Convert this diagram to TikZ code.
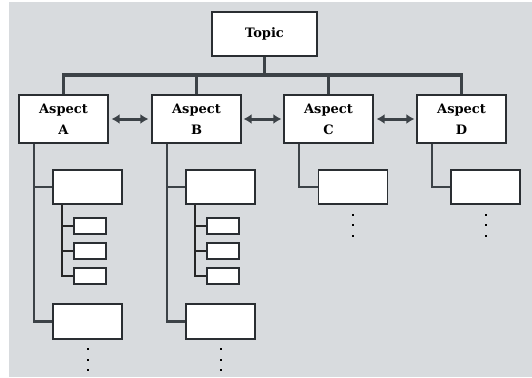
\documentclass[tikz,border=0pt]{standalone}
\usepackage{fontspec}
\setmainfont{DejaVu Serif}
\usetikzlibrary{arrows.meta}
\definecolor{bg}{HTML}{D8DBDE}
\definecolor{ln}{HTML}{3C4247}
\begin{document}
\begin{tikzpicture}[x=1pt,y=-1pt,
  box/.style={draw=ln!70!black,fill=white,line width=1.3pt,inner sep=0pt},
  main/.style={box,font=\fontsize{13}{21}\selectfont\bfseries,align=center},
  trunk/.style={draw=ln,line width=3.5pt},
  branch/.style={draw=ln,line width=2.5pt},
  sub/.style={draw=black!85,line width=1.3pt},
  link/.style={draw=ln,line width=3pt,{Latex[length=8pt,width=10pt]}-{Latex[length=8pt,width=10pt]}},
  dot/.style={fill=black,inner sep=0pt,minimum size=2pt}]
\useasboundingbox (0,0) rectangle (532,377);
\fill[bg] (9,2) rectangle (532,377);
% topic
\node[main,minimum width=105pt,minimum height=44pt] (T) at (264.5,34) {Topic};
% aspects
\foreach \n/\x/\l in {A/63.5/A,B/196.5/B,C/328.5/C,D/461.5/D}{
  \node[main,minimum width=89pt,minimum height=48pt] (\n) at (\x,119) {Aspect\\\l};
}
\coordinate (j) at (264.5,75);
\draw[trunk] (T.south) -- (j);
\draw[trunk] (A.north) |- (j) -| (D.north);
\draw[trunk] (B.north) -- (B.north |- j);
\draw[trunk] (C.north) -- (C.north |- j);
% double arrows
\draw[link] ([xshift=3pt]A.east) -- ([xshift=-3pt]B.west);
\draw[link] ([xshift=2pt]B.east) -- ([xshift=-2pt]C.west);
\draw[link] ([xshift=3pt]C.east) -- ([xshift=-2pt]D.west);
% children boxes
\foreach \n/\x in {A/87.5,B/220.5,C/353,D/485.5}{
  \node[box,minimum width=69pt,minimum height=34pt] (\n1) at (\x,187) {};
}
\foreach \n/\x in {A/87.5,B/220.5}{
  \node[box,minimum width=69pt,minimum height=35pt] (\n2) at (\x,321.5) {};
  \foreach \i/\y in {1/226,2/251,3/276}{
    \node[box,minimum width=32pt,minimum height=16pt] (\n s\i) at (\x+2.5,\y) {};
  }
  \node[dot] (\n d1) at (\x,349) {};
  \node[dot] (\n d2) at (\x,360) {};
  \node[dot] (\n d3) at (\x,370) {};
}
\foreach \n/\x in {C/353,D/485.5}{
  \node[dot] (\n d1) at (\x,215) {};
  \node[dot] (\n d2) at (\x,225) {};
  \node[dot] (\n d3) at (\x,236) {};
}
% branches from aspects
\draw[branch] ([xshift=-29.5pt]A.south) |- (A2.west);
\draw[branch] ([xshift=-29.5pt]A.south |- A1.west) -- (A1.west);
\draw[branch] ([xshift=-29.5pt]B.south) |- (B2.west);
\draw[branch] ([xshift=-29.5pt]B.south |- B1.west) -- (B1.west);
\draw[branch] ([xshift=-29.5pt]C.south) |- (C1.west);
\draw[branch] ([xshift=-29.5pt]D.south) |- (D1.west);
% sub branches
\foreach \n in {A,B}{
  \draw[sub] ([xshift=-25.5pt]\n1.south) |- (\n s3.west);
  \draw[sub] ([xshift=-25.5pt]\n1.south |- \n s1.west) -- (\n s1.west);
  \draw[sub] ([xshift=-25.5pt]\n1.south |- \n s2.west) -- (\n s2.west);
}
\end{tikzpicture}
\end{document}
